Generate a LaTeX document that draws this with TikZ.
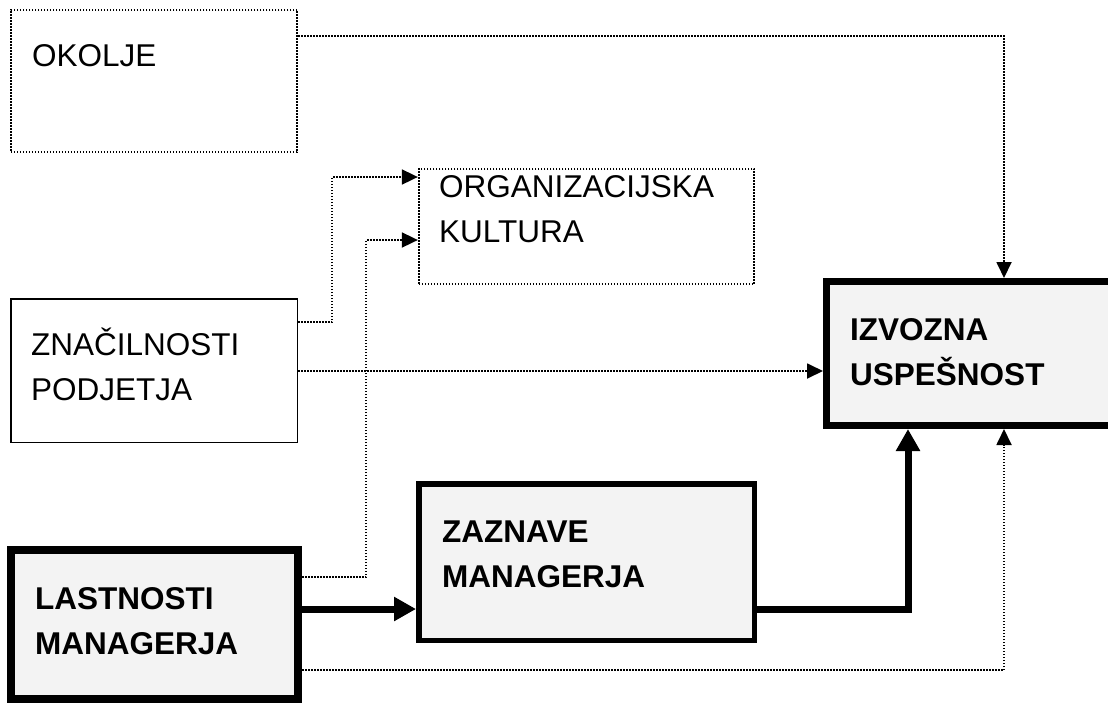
\documentclass[tikz,border=0pt]{standalone}
\usepackage{fontspec}
\setmainfont{Liberation Sans}
\usetikzlibrary{arrows.meta}
\definecolor{boxfill}{HTML}{F3F3F3}
\tikzset{
  dotbox/.style={draw, line width=1.8pt, dash pattern=on 1.5pt off 1.5pt, inner sep=0pt, outer sep=0.5\pgflinewidth},
  thinbox/.style={draw, line width=1.5pt, inner sep=0pt},
  heavybox/.style={draw, fill=boxfill, inner sep=0pt},
  lbl/.style={anchor=base west, align=left, inner sep=0pt, font=\fontsize{31.5}{45}\selectfont},
  blbl/.style={lbl, font=\fontsize{31.5}{45}\selectfont\bfseries},
  dotarrow/.style={line width=1.8pt, dash pattern=on 1.5pt off 1.5pt, -{Triangle[length=16pt,width=15pt]}},
  heavyarrow/.style={line width=7pt, -{Triangle[length=22pt,width=23pt]}},
}
\begin{document}
\begin{tikzpicture}[x=1pt,y=-1pt]
\useasboundingbox (0,0) rectangle (1108,705);
% boxes
\node[dotbox, minimum width=286.5pt, minimum height=142.5pt] (okolje) at (154,81) {};
\node[dotbox, minimum width=335.5pt, minimum height=115.5pt] (org) at (586.5,226.5) {};
\node[thinbox, minimum width=286.5pt, minimum height=143.5pt] (znac) at (154,370.5) {};
\node[heavybox, line width=7pt, minimum width=297pt, minimum height=144pt] (izv) at (975,353.5) {};
\node[heavybox, line width=5.5pt, minimum width=335.5pt, minimum height=156.5pt] (zaz) at (586.5,562) {};
\node[heavybox, line width=8pt, minimum width=287pt, minimum height=149pt] (last) at (154.5,624.5) {};
% labels (anchor at baseline of last line)
\node[lbl] (okoljeT) at (32,66) {OKOLJE};
\node[lbl] (orgT) at (439,242) {ORGANIZACIJSKA\\KULTURA};
\node[lbl] (znacT) at (31,400) {ZNAČILNOSTI\\PODJETJA};
\node[blbl] (izvT) at (850,385) {IZVOZNA\\USPEŠNOST};
\node[blbl] (zazT) at (442,587) {ZAZNAVE\\MANAGERJA};
\node[blbl] (lastT) at (35,654) {LASTNOSTI\\MANAGERJA};
% connectors
\draw[dotarrow] (okolje.east |- 0,36) -| (izv.north -| 1004,0);
\draw[dotarrow] (znac.east |- 0,322) -| (332,250) |- (org.west |- 0,177);
\draw[dotarrow] (last.east |- 0,577) -| (366,400) |- (org.west |- 0,240);
\draw[dotarrow] (znac.east |- 0,371) -- (izv.west |- 0,371);
\draw[dotarrow] (last.east |- 0,670) -| (izv.south -| 1004,0);
\draw[heavyarrow] (last.east |- 0,609) -- (zaz.west |- 0,609);
\draw[heavyarrow] (zaz.east |- 0,609) -| (izv.south -| 908,0);
\end{tikzpicture}
\end{document}
